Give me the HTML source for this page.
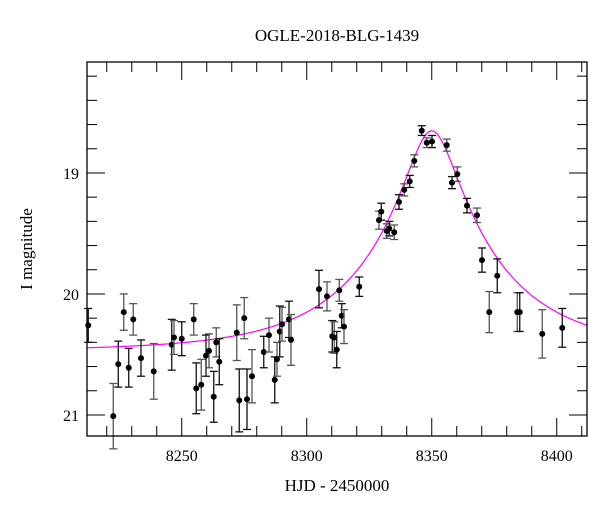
<!DOCTYPE html>
<html><head><meta charset="utf-8"><style>
html,body{margin:0;padding:0;background:#fff;}
svg text{font-family:"Liberation Serif",serif;fill:#000;}
</style></head><body>
<svg id="chart" width="600" height="512" viewBox="0 0 600 512" xmlns="http://www.w3.org/2000/svg">
<text x="337" y="41" font-size="17" text-anchor="middle">OGLE-2018-BLG-1439</text>
<text x="0" y="0" font-size="17" text-anchor="middle" transform="translate(32,249) rotate(-90)">I magnitude</text>
<text x="337" y="491" font-size="17" text-anchor="middle">HJD - 2450000</text>
<g id="ticks"></g>
<g id="model"></g>
<g id="points"></g>
<rect x="87" y="62" width="500" height="374" fill="none" stroke="#000" stroke-width="1.3"/>
</svg>
<script>
const hjd = [8212.6,8222.6,8224.6,8226.8,8228.8,8230.6,8233.7,8238.8,8246.0,8246.9,8250.0,8254.8,8255.8,8257.8,8259.7,8260.9,8262.8,8263.8,8265.0,8272.0,8273.0,8275.0,8276.1,8278.1,8282.8,8284.9,8287.2,8288.1,8289.2,8290.1,8292.9,8293.7,8304.9,8308.1,8310.2,8311.0,8312.0,8313.0,8314.0,8314.9,8321.0,8328.9,8329.8,8332.0,8333.0,8335.0,8336.9,8339.0,8341.2,8343.0,8346.0,8348.0,8350.1,8356.0,8358.1,8360.2,8364.1,8368.1,8370.1,8373.0,8376.2,8384.2,8385.2,8394.2,8402.2];
const mag = [20.26,21.01,20.58,20.15,20.61,20.21,20.53,20.64,20.42,20.36,20.37,20.21,20.78,20.75,20.51,20.47,20.85,20.40,20.56,20.32,20.88,20.20,20.87,20.68,20.48,20.34,20.71,20.54,20.31,20.25,20.21,20.38,19.96,20.02,20.35,20.36,20.46,19.97,20.18,20.27,19.94,19.39,19.32,19.48,19.46,19.49,19.24,19.14,19.07,18.90,18.65,18.75,18.74,18.77,19.08,19.01,19.27,19.35,19.72,20.15,19.85,20.15,20.15,20.33,20.28];
const magErr = [0.14,0.27,0.19,0.15,0.16,0.13,0.15,0.23,0.21,0.14,0.14,0.13,0.21,0.21,0.17,0.14,0.21,0.12,0.19,0.23,0.26,0.17,0.25,0.22,0.13,0.14,0.19,0.14,0.21,0.14,0.15,0.21,0.155,0.12,0.13,0.13,0.15,0.09,0.10,0.14,0.08,0.075,0.07,0.06,0.06,0.06,0.06,0.05,0.05,0.05,0.04,0.04,0.05,0.05,0.05,0.06,0.06,0.06,0.10,0.17,0.14,0.16,0.16,0.20,0.16];
const xTicks = [8250,8300,8350,8400];
const yTicks = [19,20,21];
const modelParams = [8350, 0.19, 51, 20.47]; // t0, u0, tE, baseline mag

const NS="http://www.w3.org/2000/svg";
const X0=87,X1=587,Y0=62,Y1=436;
const xMin=8212.1,xMax=8412.1,yTop=18.083,yBot=21.174;
const xs=d=>X0+(d-xMin)/(xMax-xMin)*(X1-X0);
const ys=m=>Y0+(m-yTop)/(yBot-yTop)*(Y1-Y0);
function mk(tag,attrs,parent){const e=document.createElementNS(NS,tag);for(const k in attrs)e.setAttribute(k,attrs[k]);parent.appendChild(e);return e;}

const tg=document.getElementById('ticks');
for(let d=8220; d<=8410; d+=10){
  const major=d%50===0, L=major?18:10, x=xs(d);
  const t1=mk('line',{x1:x,y1:Y1,x2:x,y2:Y1-L,stroke:'#000','stroke-width':1},tg);
  
  
  const t2=mk('line',{x1:x,y1:Y0,x2:x,y2:Y0+L,stroke:'#000','stroke-width':1},tg);
  
  
}
xTicks.forEach(v=>{
  const t=mk('text',{x:xs(v),y:Y1+25,'font-size':16,'text-anchor':'middle'},tg);
  t.textContent=v;
  
  
});
for(let i=0;i<=15;i++){
  const m=18.2+i*0.2; if(m>yBot) break;
  const major=Math.abs(m-Math.round(m))<1e-6, L=major?18:10, y=ys(m);
  const t1=mk('line',{x1:X0,y1:y,x2:X0+L,y2:y,stroke:'#000','stroke-width':1},tg);
  
  
  const t2=mk('line',{x1:X1,y1:y,x2:X1-L,y2:y,stroke:'#000','stroke-width':1},tg);
  
  
}
yTicks.forEach(v=>{
  const t=mk('text',{x:X0-8,y:ys(v)+6,'font-size':16,'text-anchor':'end'},tg);
  t.textContent=v;
  
  
});

const [t0,u0,tE,base]=modelParams;
let pts=[];
for(let d=xMin; d<=xMax; d+=0.5){
  const tau=(d-t0)/tE, u=Math.sqrt(u0*u0+tau*tau);
  const A=(u*u+2)/(u*Math.sqrt(u*u+4));
  pts.push(xs(d).toFixed(2)+','+ys(base-2.5*Math.log10(A)).toFixed(2));
}
const mg=document.getElementById('model');
const pl=mk('polyline',{points:pts.join(' '),fill:'none',stroke:'#ff00ff','stroke-width':1.2},mg);



const pg=document.getElementById('points');
hjd.forEach((d,i)=>{
  const x=xs(d), y=ys(mag[i]), ya=ys(mag[i]-magErr[i]), yb=ys(mag[i]+magErr[i]);
  const col=i%2?'#555':'#111';
  const g=mk('g',{},pg);
  
  
  mk('line',{x1:x,y1:ya,x2:x,y2:yb,stroke:col,'stroke-width':1.3},g);
  mk('line',{x1:x-4,y1:ya,x2:x+4,y2:ya,stroke:col,'stroke-width':1.3},g);
  mk('line',{x1:x-4,y1:yb,x2:x+4,y2:yb,stroke:col,'stroke-width':1.3},g);
  mk('circle',{cx:x,cy:y,r:3,fill:'#000'},g);
});
</script>
</body></html>
